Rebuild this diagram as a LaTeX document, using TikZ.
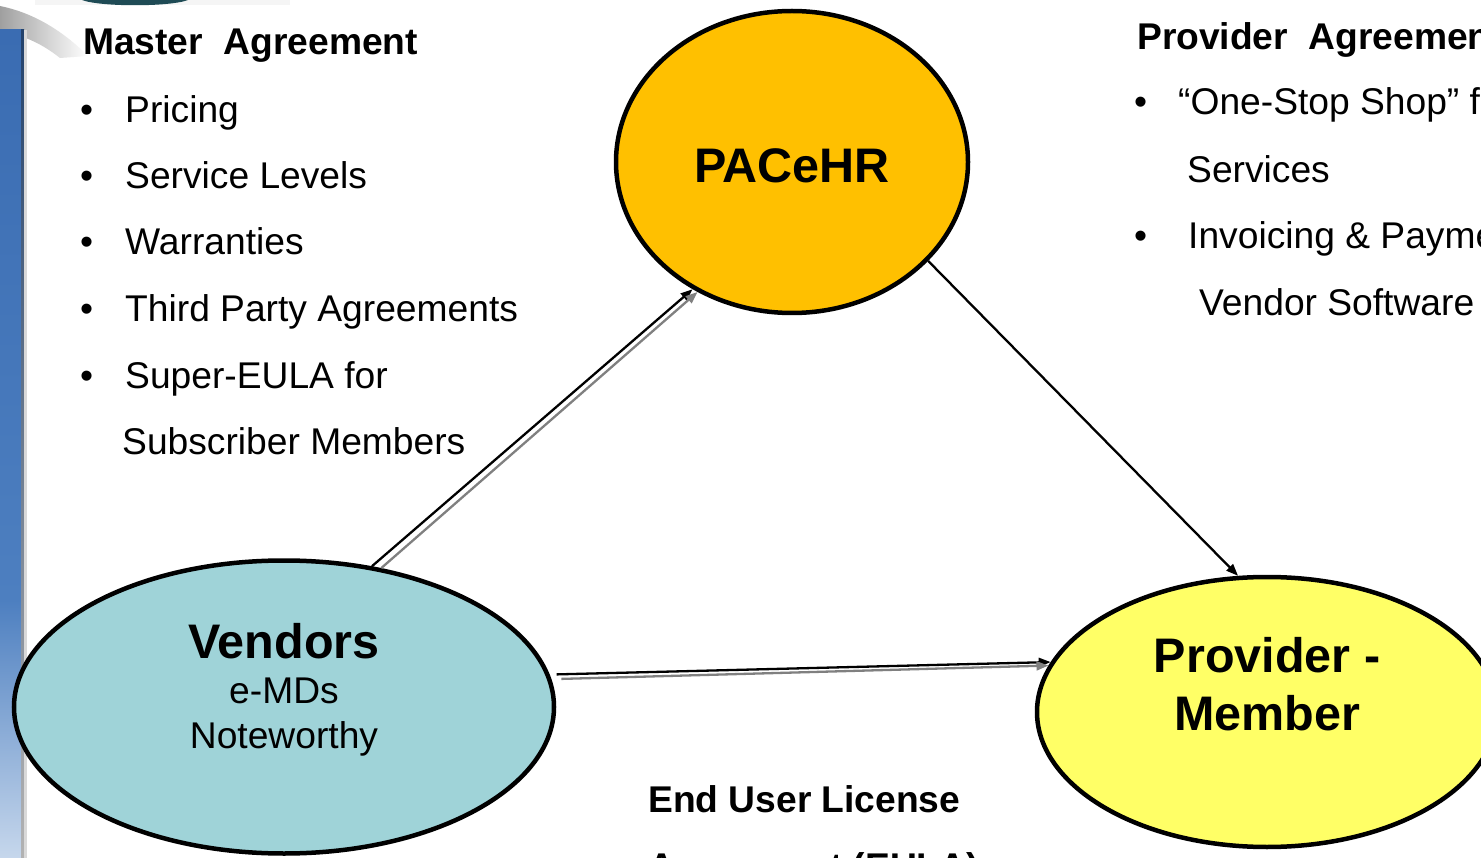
\documentclass[tikz,border=0pt]{standalone}
\usepackage{fontspec}
\setmainfont{Liberation Sans}
\usetikzlibrary{shapes.geometric,arrows.meta}
\definecolor{pacorange}{HTML}{FFC000}
\definecolor{vendteal}{HTML}{9FD3D8}
\definecolor{provyellow}{HTML}{FFFF66}
\definecolor{barblue}{HTML}{3A6CB2}
\definecolor{barmid}{HTML}{4D7FC0}
\definecolor{barlight}{HTML}{C6D7EC}
\definecolor{baredge}{HTML}{23426C}
\definecolor{shadowgray}{HTML}{808080}
\definecolor{logoteal}{HTML}{1F4B55}
\begin{document}
\begin{tikzpicture}[x=1pt,y=-1pt,
  oval/.style={ellipse, draw=black, line width=4.5pt, inner sep=0pt},
  txt/.style={anchor=base west, inner sep=0pt, font=\fontsize{37.2}{40}\selectfont},
  head/.style={anchor=base west, inner sep=0pt, font=\fontsize{37.2}{40}\selectfont\bfseries},
  biglabel/.style={anchor=base, inner sep=0pt, font=\fontsize{48.5}{52}\selectfont\bfseries},
  midlabel/.style={anchor=base, inner sep=0pt, font=\fontsize{37.2}{40}\selectfont},
  blk/.style={draw=black, line width=2.3pt, -{Triangle[length=12pt,width=9pt]}},
  gry/.style={draw=shadowgray, line width=2.3pt, -{Triangle[length=12pt,width=9pt]}},
]
\useasboundingbox (0,0) rectangle (1481,858);
\clip (0,0) rectangle (1481,858);
\fill[white] (0,0) rectangle (1481,858);

% left decoration bar
\fill[gray!8] (35,0) rectangle (290,5);
\fill[logoteal] (82,0) .. controls (100,7) and (170,7) .. (188,0) -- cycle;
\shade[left color=gray!75, right color=white] (0,6) .. controls (30,12) and (60,28) .. (88,56) -- (60,58) .. controls (40,42) and (20,34) .. (0,32) -- cycle;
\shade[top color=barblue, bottom color=barmid] (0,30) rectangle (22,600);
\shade[top color=barmid, bottom color=barlight] (0,600) rectangle (22,858);
\shade[top color=baredge, bottom color=gray!60] (21,30) rectangle (24,858);
\fill[gray!30] (24,30) rectangle (27,858);

% ellipses
\node[oval, fill=pacorange, minimum width=352pt, minimum height=302pt] (pac) at (792,162) {};
\node[oval, fill=vendteal, minimum width=540pt, minimum height=293pt] (ven) at (284,707) {};
\node[oval, fill=provyellow, minimum width=460pt, minimum height=270pt] (pro) at (1267,712) {};

% ellipse labels
\node[biglabel] (pacl) at (792,183) {PACeHR};
\node[biglabel] (venl) at (284,658) {Vendors};
\node[midlabel] (venl2) at (284,703) {e-MDs};
\node[midlabel] (venl3) at (284,748) {Noteworthy};
\node[biglabel] (prol) at (1267,672) {Provider -};
\node[biglabel] (prol2) at (1267,730) {Member};

% connectors
\draw[blk] (ven.58) -- (pac.232);
\draw[gry] (ven.55) -- (pac.234);
\draw[blk] ([xshift=7pt]ven.7.6) -- (pro.167.7);
\draw[gry] ([xshift=10pt]ven.6.2) -- (pro.168.8);
\draw[blk] (pac.-36) -- (pro.102.6);

% master agreement text
\node[head] (mh) at (83,55) {Master\ \ Agreement};
\node[txt] (mb1) at (80,122.5) {•};
\node[txt] (mt1) at (125,122.5) {Pricing};
\node[txt] (mb2) at (80,188.5) {•};
\node[txt] (mt2) at (125,188.5) {Service Levels};
\node[txt] (mb3) at (80,255) {•};
\node[txt] (mt3) at (125,255) {Warranties};
\node[txt] (mb4) at (80,322) {•};
\node[txt] (mt4) at (125,322) {Third Party Agreements};
\node[txt] (mb5) at (80,388.5) {•};
\node[txt] (mt5) at (125,388.5) {Super-EULA for};
\node[txt] (mt6) at (122,455) {Subscriber Members};

% provider agreement text
\node[head] (ph) at (1137,50) {Provider\ \ Agreement};
\node[txt] (pb1) at (1134,115) {•};
\node[txt] (pt1) at (1178,115) {“One-Stop Shop” for};
\node[txt] (pt2) at (1187,183) {Services};
\node[txt] (pb2) at (1134,249) {•};
\node[txt] (pt3) at (1188,249) {Invoicing \& Payment};
\node[txt] (pt4) at (1199,316) {Vendor Software};

% EULA text
\node[head] (e1) at (648,812) {End User License};
\node[head] (e2) at (648,879) {Agreement (EULA)};
\end{tikzpicture}
\end{document}
